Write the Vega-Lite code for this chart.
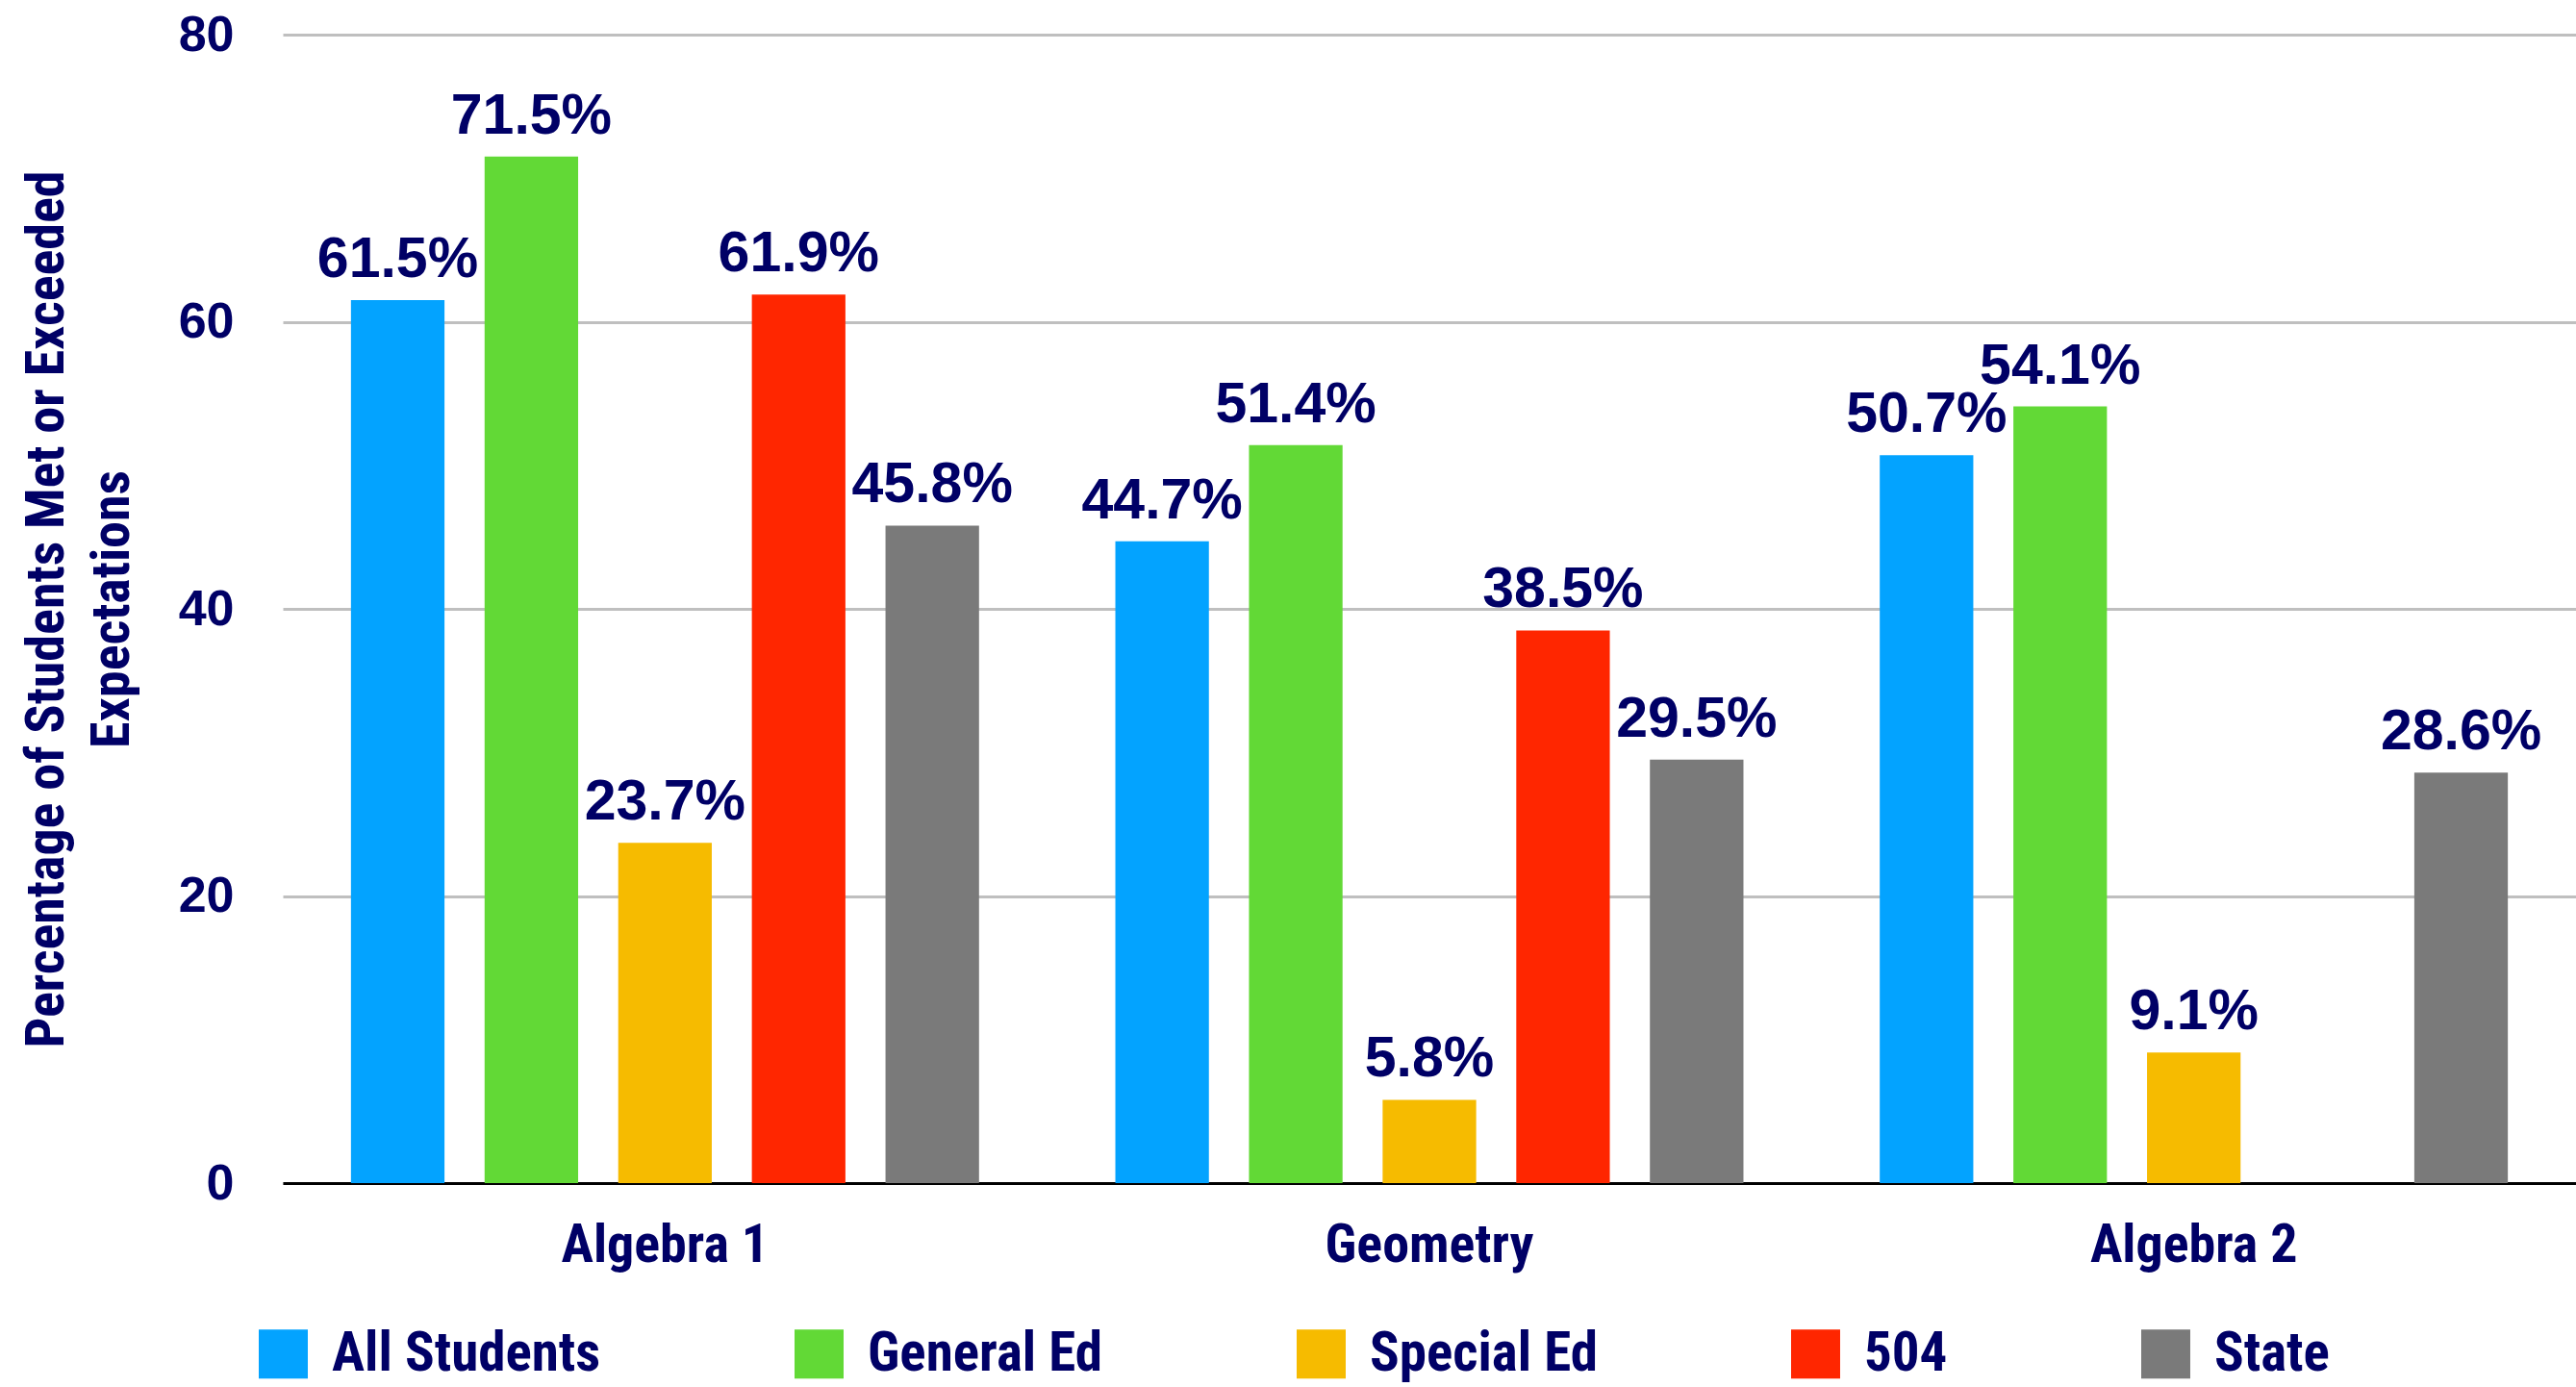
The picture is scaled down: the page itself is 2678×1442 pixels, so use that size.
{
  "$schema": "https://vega.github.io/schema/vega-lite/v6.json",
  "autosize": "none",
  "width": 2384,
  "height": 1194,
  "padding": {"left": 294, "top": 36, "right": 0, "bottom": 212},
  "background": "white",
  "data": {
    "values": [
      {"course": "Algebra 1", "group": "All Students", "value": 61.5, "label": "61.5%"},
      {"course": "Algebra 1", "group": "General Ed", "value": 71.5, "label": "71.5%"},
      {"course": "Algebra 1", "group": "Special Ed", "value": 23.7, "label": "23.7%"},
      {"course": "Algebra 1", "group": "504", "value": 61.9, "label": "61.9%"},
      {"course": "Algebra 1", "group": "State", "value": 45.8, "label": "45.8%"},
      {"course": "Geometry", "group": "All Students", "value": 44.7, "label": "44.7%"},
      {"course": "Geometry", "group": "General Ed", "value": 51.4, "label": "51.4%"},
      {"course": "Geometry", "group": "Special Ed", "value": 5.8, "label": "5.8%"},
      {"course": "Geometry", "group": "504", "value": 38.5, "label": "38.5%"},
      {"course": "Geometry", "group": "State", "value": 29.5, "label": "29.5%"},
      {"course": "Algebra 2", "group": "All Students", "value": 50.7, "label": "50.7%"},
      {"course": "Algebra 2", "group": "General Ed", "value": 54.1, "label": "54.1%"},
      {"course": "Algebra 2", "group": "Special Ed", "value": 9.1, "label": "9.1%"},
      {"course": "Algebra 2", "group": "State", "value": 28.6, "label": "28.6%"}
    ]
  },
  "config": {
    "view": {"stroke": null},
    "axis": {"labelColor": "#000066", "titleColor": "#000066"}
  },
  "encoding": {
    "x": {
      "field": "course",
      "type": "nominal",
      "sort": ["Algebra 1", "Geometry", "Algebra 2"],
      "scale": {"paddingInner": 0, "paddingOuter": 0},
      "axis": {
        "title": null,
        "labelAngle": 0,
        "labelFont": "'Roboto Condensed', 'Liberation Sans', sans-serif",
        "labelFontWeight": "bold",
        "labelFontSize": 56,
        "labelPadding": 37,
        "labelLimit": 1000,
        "ticks": false,
        "domainColor": "#000000",
        "domainWidth": 3,
        "grid": false
      }
    },
    "xOffset": {
      "field": "group",
      "type": "nominal",
      "scale": {
        "domain": ["All Students", "General Ed", "Special Ed", "504", "State"],
        "paddingInner": 0.3,
        "paddingOuter": 0.51
      }
    },
    "y": {
      "field": "value",
      "type": "quantitative",
      "scale": {"domain": [0, 80]},
      "axis": {
        "values": [0, 20, 40, 60, 80],
        "title": ["Percentage of Students Met or Exceeded", "Expectations"],
        "titleFont": "'Roboto Condensed', 'Liberation Sans', sans-serif",
        "titleFontWeight": "bold",
        "titleFontSize": 56,
        "titleLineHeight": 68,
        "titleAngle": -90,
        "titleAlign": "center",
        "titleBaseline": "middle",
        "titleX": -246,
        "titleY": 597,
        "titleLimit": 2000,
        "labelFont": "Liberation Sans",
        "labelFontWeight": "bold",
        "labelFontSize": 52,
        "labelPadding": 51,
        "ticks": false,
        "domain": false,
        "grid": true,
        "gridColor": "#bfbfbf",
        "gridWidth": 3
      }
    }
  },
  "layer": [
    {
      "mark": {"type": "bar"},
      "encoding": {
        "color": {
          "field": "group",
          "type": "nominal",
          "scale": {
            "domain": ["All Students", "General Ed", "Special Ed", "504", "State"],
            "range": ["#03a3ff", "#62d936", "#f6bb00", "#ff2600", "#7a7a7a"]
          },
          "legend": {
            "title": null,
            "orient": "none",
            "direction": "horizontal",
            "legendX": -28,
            "legendY": 1343,
            "symbolType": "square",
            "symbolSize": 2600,
            "symbolStrokeWidth": 0,
            "symbolOpacity": 1,
            "labelFont": "'Roboto Condensed', 'Liberation Sans', sans-serif",
            "labelFontWeight": "bold",
            "labelFontSize": 57,
            "labelColor": "#000066",
            "labelOffset": 22,
            "columnPadding": 198,
            "labelLimit": 1000
          }
        }
      }
    },
    {
      "mark": {
        "type": "text",
        "baseline": "alphabetic",
        "align": "center",
        "dy": -24,
        "font": "Liberation Sans",
        "fontWeight": "bold",
        "fontSize": 59,
        "color": "#000066"
      },
      "encoding": {"text": {"field": "label"}}
    }
  ]
}
